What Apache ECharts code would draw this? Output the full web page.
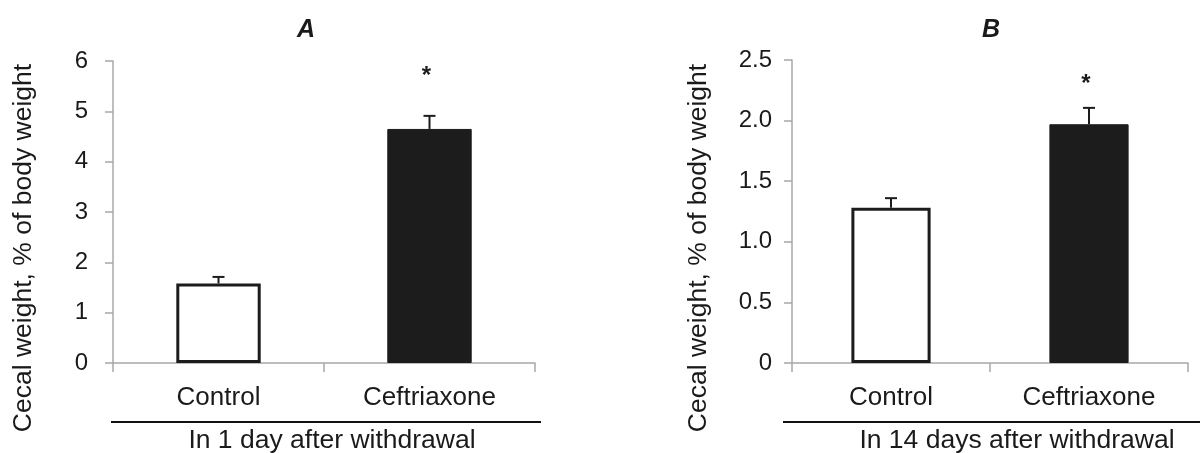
<!DOCTYPE html>
<html>
<head>
<meta charset="utf-8">
<script src="https://cdn.jsdelivr.net/npm/echarts@6/dist/echarts.min.js"></script>
<style>
  html, body { margin: 0; padding: 0; background: #ffffff; }
  #chart { width: 1200px; height: 453px; }
</style>
</head>
<body>
<div id="chart"></div>
<script>
// ---- data ----
const categories = ['Control', 'Ceftriaxone'];
const panelTitles = ['A', 'B'];
const yAxisTitle = 'Cecal weight, % of body weight';
const groupLabels = ['In 1 day after withdrawal', 'In 14 days after withdrawal'];

const valuesA = [1.58, 4.65];
const errorsA = [0.13, 0.26];
const starsA = [null, 5.81];

const valuesB = [1.28, 1.97];
const errorsB = [0.08, 0.135];
const starsB = [null, 2.35];

const yMaxA = 6, yStepA = 1;
const yMaxB = 2.5, yStepB = 0.5;

// ---- styling ----
const FONT = "'Liberation Sans', Arial, Helvetica, sans-serif";
const TXT = '#1a1a1a';
const AXIS = '#a8a8a8';
const DARK = '#1c1c1c';

function barData(values) {
  return values.map((v, i) => ({
    value: v,
    itemStyle: i === 0
      ? { color: '#ffffff', borderColor: DARK, borderWidth: 3 }
      : { color: DARK, borderColor: DARK, borderWidth: 1 }
  }));
}

function errorSeries(idx, values, errors) {
  return {
    type: 'custom',
    xAxisIndex: idx, yAxisIndex: idx,
    z: 5,
    data: values.map((v, i) => [i, v, errors[i]]),
    renderItem: function (params, api) {
      const x = api.value(0), y = api.value(1), e = api.value(2);
      const base = api.coord([x, y]);
      const top = api.coord([x, y + e]);
      return {
        type: 'group',
        children: [
          { type: 'line', shape: { x1: top[0], y1: base[1], x2: top[0], y2: top[1] },
            style: { stroke: DARK, lineWidth: 2 } },
          { type: 'line', shape: { x1: top[0] - 6, y1: top[1], x2: top[0] + 6, y2: top[1] },
            style: { stroke: DARK, lineWidth: 2 } }
        ]
      };
    }
  };
}

function starSeries(idx, stars) {
  const data = [];
  stars.forEach((s, i) => { if (s !== null) data.push([i, s]); });
  return {
    type: 'custom',
    xAxisIndex: idx, yAxisIndex: idx,
    z: 6,
    data: data,
    renderItem: function (params, api) {
      const p = api.coord([api.value(0), api.value(1)]);
      return {
        type: 'text',
        style: {
          text: '*', x: p[0] - 3, y: p[1] + 6,
          fill: DARK, font: 'bold 24px ' + FONT,
          align: 'center', verticalAlign: 'middle'
        }
      };
    }
  };
}

function yAxis(idx, max, step, margin, fmt) {
  return {
    type: 'value', gridIndex: idx, min: 0, max: max, interval: step,
    axisLine: { show: true, lineStyle: { color: AXIS, width: 1.5 } },
    axisTick: { show: true, length: 8, lineStyle: { color: AXIS, width: 1.5 } },
    splitLine: { show: false },
    axisLabel: { color: TXT, fontSize: 24, fontFamily: FONT, margin: margin, formatter: fmt }
  };
}

function xAxis(idx) {
  return {
    type: 'category', gridIndex: idx, data: categories,
    axisLine: { show: true, lineStyle: { color: AXIS, width: 1.5 } },
    axisTick: { show: true, length: 9, lineStyle: { color: AXIS, width: 1.5 } },
    axisLabel: { color: TXT, fontSize: 26, fontFamily: FONT, margin: 22 }
  };
}

const chart = echarts.init(document.getElementById('chart'), null, { renderer: 'canvas' });

const option = {
  backgroundColor: '#ffffff',
  animation: false,
  title: [
    { text: panelTitles[0], left: 301, top: 13, textAlign: 'center',
      textStyle: { fontSize: 25, fontWeight: 'bold', fontStyle: 'italic', color: TXT, fontFamily: FONT } },
    { text: panelTitles[1], left: 986, top: 13, textAlign: 'center',
      textStyle: { fontSize: 25, fontWeight: 'bold', fontStyle: 'italic', color: TXT, fontFamily: FONT } }
  ],
  grid: [
    { left: 113, right: 665, top: 61, bottom: 90 },
    { left: 792, right: 12, top: 60, bottom: 90 }
  ],
  xAxis: [xAxis(0), xAxis(1)],
  yAxis: [
    yAxis(0, yMaxA, yStepA, 25, v => String(v)),
    yAxis(1, yMaxB, yStepB, 20, v => v === 0 ? '0' : v.toFixed(1))
  ],
  series: [
    { type: 'bar', xAxisIndex: 0, yAxisIndex: 0, barWidth: '40%', data: barData(valuesA) },
    { type: 'bar', xAxisIndex: 1, yAxisIndex: 1, barWidth: '40%', data: barData(valuesB) },
    errorSeries(0, valuesA, errorsA),
    errorSeries(1, valuesB, errorsB),
    starSeries(0, starsA),
    starSeries(1, starsB)
  ],
  graphic: [
    { type: 'text', x: 24, y: 248, rotation: Math.PI / 2,
      style: { text: yAxisTitle, fill: TXT, font: '26.5px ' + FONT, align: 'center', verticalAlign: 'middle' } },
    { type: 'text', x: 699, y: 248, rotation: Math.PI / 2,
      style: { text: yAxisTitle, fill: TXT, font: '26.5px ' + FONT, align: 'center', verticalAlign: 'middle' } },
    { type: 'line', shape: { x1: 111, y1: 422, x2: 541, y2: 422 }, style: { stroke: '#111', lineWidth: 2 } },
    { type: 'line', shape: { x1: 783, y1: 422, x2: 1200, y2: 422 }, style: { stroke: '#111', lineWidth: 2 } },
    { type: 'text', x: 332, y: 441,
      style: { text: groupLabels[0], fill: TXT, font: '26.5px ' + FONT, align: 'center', verticalAlign: 'middle' } },
    { type: 'text', x: 1017, y: 441,
      style: { text: groupLabels[1], fill: TXT, font: '26.5px ' + FONT, align: 'center', verticalAlign: 'middle' } }
  ]
};

chart.setOption(option);
</script>
</body>
</html>
